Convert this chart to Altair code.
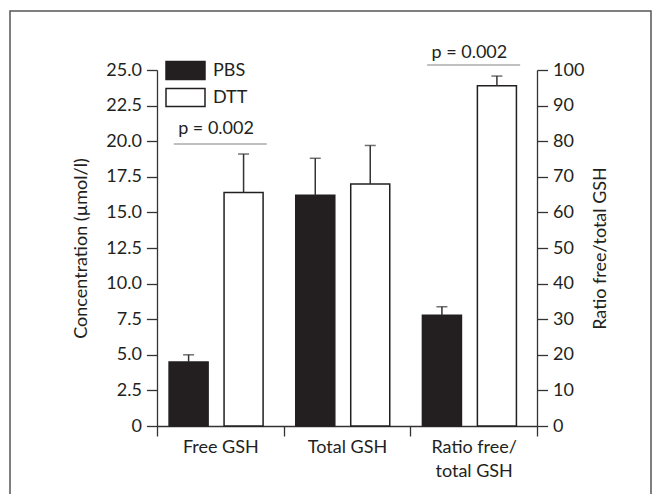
import altair as alt
import pandas as pd

categories = ["Free GSH", "Total GSH", "Ratio free/|total GSH"]
groups = ["PBS", "DTT"]

free_mean = [4.5, 16.4]
free_err = [5.0, 19.1]
total_mean = [16.2, 17.0]
total_err = [18.8, 19.7]
ratio_mean = [31.1, 95.6]
ratio_err = [33.5, 98.3]

p_text = ["p = 0.002", "p = 0.002"]
p_cat = ["Free GSH", "Ratio free/|total GSH"]
p_line_y = [19.8, 101.4]   # left units, right units
p_text_y = [20.5, 103.3]

left_ticks = [0, 2.5, 5, 7.5, 10, 12.5, 15, 17.5, 20, 22.5, 25]
right_ticks = [0, 10, 20, 30, 40, 50, 60, 70, 80, 90, 100]

INK = "#231f20"
AXC = "#333333"
FONT = "Lato"
FS = 18

conc = pd.DataFrame({
    "cat": [categories[0]] * 2 + [categories[1]] * 2,
    "group": groups * 2,
    "mean": free_mean + total_mean,
    "err": free_err + total_err,
})
ratio = pd.DataFrame({
    "cat": [categories[2]] * 2,
    "group": groups,
    "mean": ratio_mean,
    "err": ratio_err,
})
pl = pd.DataFrame({"cat": [p_cat[0]], "line": [p_line_y[0]], "ty": [p_text_y[0]], "txt": [p_text[0]]})
pr = pd.DataFrame({"cat": [p_cat[1]], "line": [p_line_y[1]], "ty": [p_text_y[1]], "txt": [p_text[1]]})

x_axis = alt.Axis(title=None, labelExpr="split(datum.label, '|')", tickBand="extent",
                  tickSize=10, labelAngle=0, labelFontSize=FS, labelFont=FONT,
                  labelColor=INK, domainColor=AXC, tickColor=AXC, domainWidth=1.3,
                  tickWidth=1.3, labelPadding=2, labelLineHeight=24)
x_scale = alt.Scale(domain=categories, paddingInner=0, paddingOuter=0)
X = alt.X("cat:N", sort=categories, scale=x_scale, axis=x_axis)
XP = alt.X("cat:N", sort=categories, scale=x_scale, axis=x_axis, bandPosition=0.466)
XO = alt.XOffset("group:N", sort=groups,
                 scale=alt.Scale(domain=groups, paddingInner=0.29, paddingOuter=0.297, align=0.37))
FILL = alt.Fill("group:N", sort=groups,
                scale=alt.Scale(domain=groups, range=[INK, "#ffffff"]),
                legend=alt.Legend(orient="none", legendX=18, legendY=-10, title=None,
                                  symbolType="M-2,-0.92H2V0.92H-2Z", symbolSize=380,
                                  symbolStrokeColor=INK, symbolStrokeWidth=1.5,
                                  labelFontSize=FS, labelFont=FONT, labelColor=INK,
                                  labelOffset=17, rowPadding=2, padding=0))

yl_scale = alt.Scale(domain=[0, 25], nice=False)
yr_scale = alt.Scale(domain=[0, 100], nice=False)

left_axis = alt.Axis(values=left_ticks, labelExpr="datum.value == 0 ? '0' : format(datum.value, '.1f')",
                     tickSize=10.6, grid=False, title="Concentration (µmol/l)", labelOverlap=False,
                     titleFontWeight="normal", titleFontSize=FS, titleFont=FONT, titleColor=INK,
                     labelFontSize=FS, labelFont=FONT, labelColor=INK, labelPadding=5,
                     domainColor=AXC, tickColor=AXC, domainWidth=1.3, tickWidth=1.3, titlePadding=15)
right_axis = alt.Axis(values=right_ticks, orient="right", format="d", labelOverlap=False,
                      tickSize=10.6, grid=False, title="Ratio free/total GSH", titleAngle=270,
                      titleBaseline="top",
                      titleFontWeight="normal", titleFontSize=FS, titleFont=FONT, titleColor=INK,
                      labelFontSize=FS, labelFont=FONT, labelColor=INK, labelPadding=5,
                      domainColor=AXC, tickColor=AXC, domainWidth=1.3, tickWidth=1.3, titlePadding=8)

frame = alt.Chart(pd.DataFrame({"a": [0]})).mark_rect(fill="transparent", stroke="#555555", strokeWidth=1.5).encode(
    x=alt.value(-147), x2=alt.value(494), y=alt.value(-59), y2=alt.value(470))

def group_layers(df, pdf, yscale, yaxis):
    bars = alt.Chart(df).mark_bar(stroke=INK, strokeWidth=1.5).encode(
        x=X, xOffset=XO, y=alt.Y("mean:Q", scale=yscale, axis=yaxis), fill=FILL)
    erule = alt.Chart(df).mark_rule(color=AXC, strokeWidth=1.5).encode(
        x=X, xOffset=XO, y=alt.Y("mean:Q", scale=yscale, axis=yaxis), y2="err:Q")
    cap = alt.Chart(df).mark_tick(color=AXC, thickness=1.5, size=11, orient="horizontal").encode(
        x=X, xOffset=XO, y=alt.Y("err:Q", scale=yscale, axis=yaxis))
    pline = alt.Chart(pdf).mark_tick(color="#888888", thickness=1.5, size=93, orient="horizontal").encode(
        x=XP, y=alt.Y("line:Q", scale=yscale, axis=yaxis))
    ptext = alt.Chart(pdf).mark_text(font=FONT, fontSize=FS, color=INK, baseline="alphabetic", align="center").encode(
        x=XP, y=alt.Y("ty:Q", scale=yscale, axis=yaxis), text="txt:N")
    return alt.layer(bars, erule, cap, pline, ptext)

left = alt.layer(frame, group_layers(conc, pl, yl_scale, left_axis))
right = group_layers(ratio, pr, yr_scale, right_axis)

chart = alt.layer(left, right).resolve_scale(y="independent").properties(
    width=380, height=356,
    autosize=alt.AutoSizeParams(type="none"),
    padding={"left": 149, "top": 62, "right": 116, "bottom": 68},
).configure_view(strokeWidth=0)

chart.save("out.html", embed_options={"renderer": "svg", "actions": False})
